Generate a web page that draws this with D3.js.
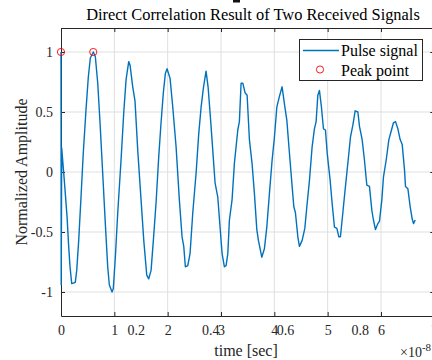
<!DOCTYPE html>
<html><head><meta charset="utf-8">
<script src="https://cdn.jsdelivr.net/npm/d3@7"></script>
<style>body{margin:0;background:#fff}svg{display:block}</style>
</head><body>
<script>
// ---- data (time in units of 1e-8 s) ----
const times = [0,0.004,0.013,0.062,0.113,0.144,0.169,0.201,0.268,0.295,0.332,0.375,0.418,0.469,0.512,0.550,0.595,0.605,0.644,0.689,0.732,0.782,0.831,0.876,0.906,0.957,0.981,1.019,1.064,1.126,1.176,1.220,1.270,1.295,1.345,1.388,1.439,1.501,1.552,1.608,1.645,1.689,1.732,1.782,1.833,1.876,1.919,1.957,1.989,2.045,2.096,2.158,2.219,2.270,2.302,2.332,2.377,2.420,2.471,2.533,2.583,2.627,2.670,2.720,2.758,2.801,2.846,2.889,2.940,2.983,3.021,3.064,3.096,3.128,3.158,3.208,3.251,3.315,3.345,3.377,3.409,3.452,3.490,3.533,3.583,3.627,3.672,3.702,3.765,3.814,3.859,3.908,3.959,4.002,4.047,4.096,4.146,4.189,4.235,4.283,4.334,4.366,4.396,4.441,4.471,4.522,4.572,4.610,4.659,4.709,4.752,4.784,4.816,4.846,4.884,4.921,4.959,4.991,5.047,5.084,5.128,5.173,5.210,5.240,5.285,5.334,5.385,5.428,5.473,5.516,5.567,5.597,5.647,5.690,5.735,5.784,5.829,5.859,5.897,5.942,5.972,6.017,6.047,6.098,6.148,6.191,6.234,6.272,6.317,6.360,6.398,6.441,6.460,6.505,6.548,6.585,6.610,6.642];
const amplitudes = [1.0,-0.94,0.20,-0.07,-0.37,-0.62,-0.79,-0.93,-0.92,-0.82,-0.57,-0.21,0.16,0.52,0.79,0.95,0.99,1.0,0.96,0.74,0.41,-0.01,-0.43,-0.79,-0.94,-1.0,-0.97,-0.71,-0.34,0.10,0.49,0.77,0.92,0.89,0.71,0.59,0.18,-0.23,-0.57,-0.86,-0.89,-0.82,-0.57,-0.26,0.13,0.41,0.66,0.82,0.86,0.78,0.54,0.21,-0.23,-0.54,-0.62,-0.79,-0.78,-0.68,-0.34,-0.01,0.32,0.54,0.70,0.84,0.71,0.46,0.18,-0.09,-0.21,-0.46,-0.68,-0.79,-0.78,-0.68,-0.40,-0.23,0.07,0.35,0.42,0.74,0.74,0.66,0.64,0.27,0.07,-0.18,-0.48,-0.57,-0.71,-0.64,-0.46,-0.18,0.10,0.29,0.54,0.63,0.71,0.57,0.43,0.16,-0.12,-0.29,-0.34,-0.54,-0.62,-0.57,-0.47,-0.29,-0.07,0.21,0.36,0.42,0.64,0.68,0.54,0.36,0.35,0.16,-0.07,-0.26,-0.46,-0.47,-0.54,-0.54,-0.34,-0.12,0.10,0.29,0.39,0.51,0.50,0.38,0.27,0.10,-0.11,-0.12,-0.32,-0.40,-0.48,-0.43,-0.41,-0.23,-0.04,0.10,0.27,0.34,0.41,0.42,0.36,0.27,0.23,0.02,-0.12,-0.14,-0.29,-0.39,-0.43,-0.40];
const peakTimes = [0, 0.605];
const peakValues = [1, 1];
const xTickValues = [0,1,2,3,4,5,6,7];
const xOverlayTicks = [0.2,0.4,0.6,0.8];
const yTickValues = [-1,-0.5,0,0.5,1];
const titleText = "Direct Correlation Result of Two Received Signals";
const xLabelText = "time [sec]";
const yLabelText = "Normalized Amplitude";
const legendLabels = ["Pulse signal","Peak point"];
const xExponent = "-8";

// ---- layout ----
const W = 432, H = 360;
const L = 61, R = 434.3, T = 28, B = 316;
const FONT = "'Liberation Serif','Times New Roman',serif";
const axisColor = "#262626", gridColor = "#dfdfdf", lineColor = "#0072BD";

const svg = d3.select("body").append("svg").attr("width", W).attr("height", H)
  .style("font-family", FONT);
svg.append("rect").attr("width", W).attr("height", H).attr("fill", "#fff");

const x = d3.scaleLinear().domain([0,7]).range([L,R]);
const x2 = d3.scaleLinear().domain([0,1]).range([L,R]);
const y = d3.scaleLinear().domain([-1.2,1.2]).range([B,T]);

// grid
const grid = svg.append("g");
grid.selectAll(".gx").data(xTickValues.slice(1)).join("line")
  .attr("x1", d=>x(d)).attr("x2", d=>x(d)).attr("y1", T).attr("y2", B)
  .attr("stroke", gridColor).attr("stroke-width", 1);
grid.selectAll(".gy").data(yTickValues).join("line")
  .attr("x1", L).attr("x2", R).attr("y1", d=>y(d)).attr("y2", d=>y(d))
  .attr("stroke", gridColor).attr("stroke-width", 1);

// axes
const tk = 4;
const bottomAxis = d3.axisBottom(x).tickValues(xTickValues).tickFormat(d3.format("d")).tickSizeInner(-tk).tickSizeOuter(0).tickPadding(9);
const gb = svg.append("g").attr("transform", `translate(0,${B})`).call(bottomAxis);
const bottomAxis2 = d3.axisBottom(x2).tickValues(xOverlayTicks).tickFormat(d3.format(".1f")).tickSize(0).tickPadding(9);
const gb2 = svg.append("g").attr("transform", `translate(0,${B})`).call(bottomAxis2);
gb2.select(".domain").remove();
gb2.selectAll(".tick line").remove();
const topAxis = d3.axisTop(x).tickValues(xTickValues).tickFormat("").tickSizeInner(-tk).tickSizeOuter(0);
const gt = svg.append("g").attr("transform", `translate(0,${T})`).call(topAxis);
const leftAxis = d3.axisLeft(y).tickValues(yTickValues).tickFormat(d=>String(d)).tickSizeInner(-tk).tickSizeOuter(0).tickPadding(8);
const gl = svg.append("g").attr("transform", `translate(${L},0)`).call(leftAxis);
const rightAxis = d3.axisRight(y).tickValues(yTickValues).tickFormat("").tickSizeInner(-tk).tickSizeOuter(0);
const gr = svg.append("g").attr("transform", `translate(${R},0)`).call(rightAxis);
[gb,gb2,gt,gl,gr].forEach(g=>{
  g.attr("font-family", null);
  g.selectAll(".domain").attr("stroke", axisColor).attr("stroke-width", 1);
  g.selectAll(".tick line").attr("stroke", axisColor).attr("stroke-width", 1);
  g.selectAll(".tick text").attr("fill", axisColor).style("font-family", FONT).style("font-size", "14px");
});
gb.selectAll(".tick text").attr("dy", "0.71em");
gb2.selectAll(".tick text").attr("dy", "0.71em");

// data line
const line = d3.line().x((d,i)=>x(times[i])).y((d,i)=>y(amplitudes[i]));
svg.append("path").datum(amplitudes).attr("d", line)
  .attr("fill","none").attr("stroke", lineColor).attr("stroke-width", 1.4).attr("stroke-linejoin","round");

// peaks
svg.selectAll(".peak").data(peakTimes).join("circle")
  .attr("cx", d=>x(d)).attr("cy", (d,i)=>y(peakValues[i])).attr("r", 3.6)
  .attr("fill","none").attr("stroke","#ff0000").attr("stroke-width", 0.9);

// title
svg.append("text").attr("x", 253).attr("y", 20).attr("text-anchor","middle")
  .style("font-size","16.4px").attr("fill","#000").text(titleText);
// stray mark at top
svg.append("rect").attr("x",233).attr("y",0).attr("width",7).attr("height",2.5).attr("fill","#111");

// axis labels
svg.append("text").attr("x", 246).attr("y", 356).attr("text-anchor","middle")
  .style("font-size","16px").attr("fill", axisColor).text(xLabelText);
svg.append("text").attr("transform","translate(27,172) rotate(-90)").attr("text-anchor","middle")
  .style("font-size","16px").attr("fill", axisColor).text(yLabelText);
const ex = svg.append("text").attr("x", 400).attr("y", 357).style("font-size","14px").attr("fill", axisColor);
ex.append("tspan").text("\u00d710");
ex.append("tspan").attr("dy", -6).style("font-size","11px").text(xExponent);

// legend
const lg = svg.append("g");
lg.append("rect").attr("x",299.5).attr("y",39.5).attr("width",123).attr("height",41)
  .attr("fill","#fff").attr("stroke", axisColor).attr("stroke-width",1);
lg.append("line").attr("x1",303).attr("x2",339).attr("y1",50.5).attr("y2",50.5)
  .attr("stroke", lineColor).attr("stroke-width",1.3);
lg.append("circle").attr("cx",320).attr("cy",69.5).attr("r",3.6)
  .attr("fill","none").attr("stroke","#ff0000").attr("stroke-width",0.9);
lg.selectAll(".lt").data(legendLabels).join("text")
  .attr("x", 341).attr("y",(d,i)=>56 + i*19.5).style("font-size","16px").attr("fill","#000").text(d=>d);
</script>
</body></html>
